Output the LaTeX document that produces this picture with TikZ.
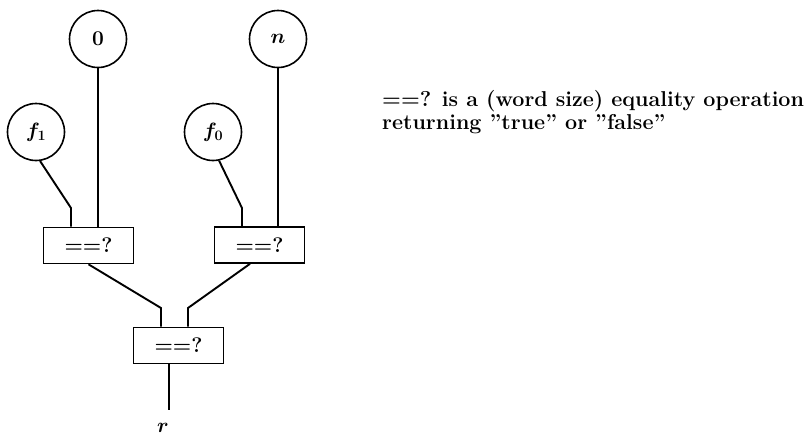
\documentclass[tikz,border=0pt]{standalone}
\usepackage{bm}
\begin{document}
\begin{tikzpicture}[x=1pt,y=-1pt,
  wire/.style={line width=1.9pt},
  valnode/.style={draw,circle,line width=1.6pt,minimum size=57pt,inner sep=0pt,
    font=\fontsize{21}{24}\selectfont\bfseries\boldmath},
  opbox/.style={draw,rectangle,line width=1.6pt,minimum width=90pt,minimum height=36pt,
    inner sep=0pt,font=\fontsize{21}{24}\selectfont\bfseries},
  note/.style={align=left,inner sep=0pt,font=\fontsize{21.5}{23}\selectfont\bfseries}]
  \useasboundingbox (0,0) rectangle (806,440);

  % input values
  \node[valnode] (c0) at (98,39) {0};
  \node[valnode] (cn) at (278,39) {$n$};
  \node[valnode] (cf1) at (36,132) {$f_1$};
  \node[valnode] (cf0) at (213,132) {$f_0$};

  % comparison boxes
  \node[opbox] (bL) at (88.5,245.5) {==?};
  \node[opbox] (bR) at (259.5,245) {==?};
  \node[opbox] (bB) at (178.5,345.5) {==?};

  % result
  \coordinate (out) at (169,410);
  \node[font=\fontsize{21}{24}\selectfont\boldmath,inner sep=0pt] (r) at (163,428) {$r$};

  % wires into the left box
  \draw[wire] (cf1.-82) -- (71,208) -- (71,208 |- bL.north);
  \draw[wire] (c0.south) -- (c0.south |- bL.north);
  % wires into the right box
  \draw[wire] (cf0.-78) -- (242,208) -- (242,208 |- bR.north);
  \draw[wire] (cn.south) -- (cn.south |- bR.north);
  % wires into the bottom box
  \draw[wire] (bL.south) -- (161,308) -- (161,308 |- bB.north);
  \draw[wire] ([xshift=-9.5pt]bR.south) -- (188,308) -- (188,308 |- bB.north);
  % output wire
  \draw[wire] (bB.south -| out) -- (out);

  % explanation (the base anchor sits on the last line)
  \node[note,anchor=base west] (txt) at (382,129)
    {==? is a (word size) equality operation\\returning ”true” or ”false”};
\end{tikzpicture}
\end{document}
